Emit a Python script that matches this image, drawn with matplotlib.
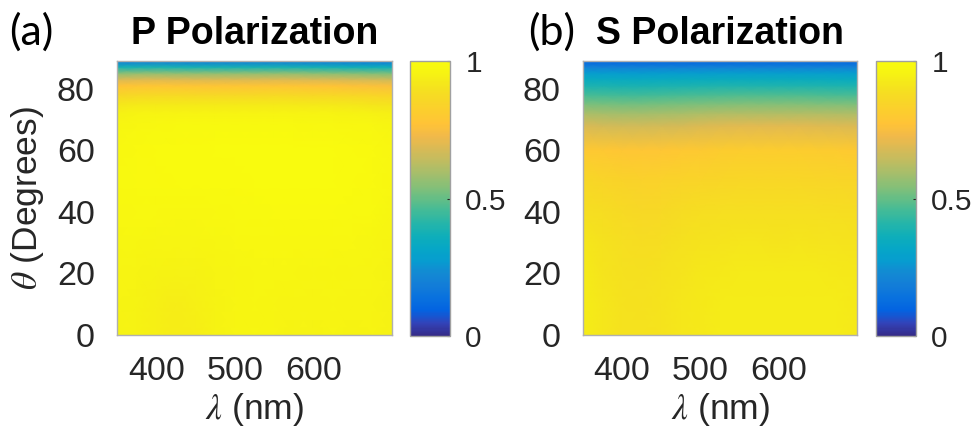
import numpy as np
import matplotlib
matplotlib.use("Agg")
import matplotlib.pyplot as plt
from matplotlib.colors import LinearSegmentedColormap

# ---------------- data ----------------
wavelength_nm = [350, 375, 400, 425, 450, 475, 500, 525, 550, 575, 600, 625, 650, 675, 700]
angle_deg = [0, 10, 20, 30, 40, 50, 60, 68, 72, 75, 78, 81, 83, 85, 87, 89]

p_absorption = [
    [0.955, 0.955, 0.945, 0.935, 0.940, 0.955, 0.965, 0.970, 0.965, 0.955, 0.955, 0.965, 0.955, 0.960, 0.950],
    [0.960, 0.955, 0.945, 0.937, 0.942, 0.955, 0.965, 0.970, 0.968, 0.962, 0.958, 0.965, 0.958, 0.962, 0.952],
    [0.965, 0.960, 0.955, 0.950, 0.952, 0.960, 0.968, 0.972, 0.972, 0.970, 0.968, 0.970, 0.968, 0.965, 0.955],
    [0.972, 0.970, 0.968, 0.965, 0.965, 0.970, 0.975, 0.978, 0.980, 0.980, 0.978, 0.978, 0.976, 0.972, 0.962],
    [0.980, 0.982, 0.982, 0.980, 0.980, 0.982, 0.985, 0.988, 0.990, 0.990, 0.990, 0.990, 0.988, 0.985, 0.972],
    [0.985, 0.990, 0.992, 0.993, 0.994, 0.995, 0.996, 0.997, 0.997, 0.997, 0.997, 0.997, 0.996, 0.990, 0.978],
    [0.982, 0.990, 0.993, 0.995, 0.996, 0.997, 0.998, 0.998, 0.998, 0.998, 0.998, 0.998, 0.996, 0.990, 0.975],
    [0.970, 0.978, 0.982, 0.985, 0.986, 0.986, 0.986, 0.986, 0.986, 0.985, 0.984, 0.983, 0.980, 0.975, 0.965],
    [0.950, 0.958, 0.962, 0.963, 0.963, 0.963, 0.963, 0.963, 0.963, 0.962, 0.960, 0.958, 0.955, 0.950, 0.942],
    [0.915, 0.922, 0.925, 0.925, 0.925, 0.925, 0.925, 0.925, 0.925, 0.922, 0.920, 0.918, 0.915, 0.910, 0.905],
    [0.855, 0.862, 0.865, 0.865, 0.862, 0.862, 0.862, 0.862, 0.865, 0.862, 0.858, 0.856, 0.852, 0.848, 0.842],
    [0.770, 0.780, 0.782, 0.780, 0.778, 0.778, 0.778, 0.778, 0.780, 0.778, 0.772, 0.770, 0.765, 0.760, 0.755],
    [0.680, 0.690, 0.692, 0.688, 0.685, 0.685, 0.685, 0.685, 0.688, 0.685, 0.680, 0.676, 0.670, 0.665, 0.660],
    [0.550, 0.560, 0.562, 0.558, 0.555, 0.555, 0.555, 0.555, 0.558, 0.555, 0.550, 0.545, 0.540, 0.535, 0.530],
    [0.380, 0.390, 0.392, 0.388, 0.385, 0.385, 0.385, 0.385, 0.388, 0.385, 0.380, 0.375, 0.370, 0.368, 0.365],
    [0.170, 0.178, 0.180, 0.178, 0.175, 0.175, 0.175, 0.175, 0.178, 0.175, 0.170, 0.168, 0.165, 0.162, 0.160],
]

s_absorption = [
    [0.935, 0.915, 0.900, 0.900, 0.905, 0.915, 0.925, 0.930, 0.930, 0.930, 0.930, 0.930, 0.930, 0.930, 0.922],
    [0.935, 0.915, 0.900, 0.898, 0.903, 0.915, 0.925, 0.930, 0.930, 0.930, 0.930, 0.930, 0.930, 0.930, 0.922],
    [0.930, 0.910, 0.897, 0.893, 0.900, 0.910, 0.920, 0.925, 0.927, 0.927, 0.926, 0.927, 0.926, 0.925, 0.918],
    [0.915, 0.900, 0.888, 0.880, 0.886, 0.897, 0.905, 0.910, 0.912, 0.912, 0.910, 0.912, 0.910, 0.908, 0.903],
    [0.890, 0.880, 0.868, 0.860, 0.865, 0.875, 0.883, 0.888, 0.890, 0.890, 0.890, 0.890, 0.888, 0.886, 0.882],
    [0.860, 0.850, 0.840, 0.835, 0.838, 0.845, 0.850, 0.855, 0.857, 0.857, 0.857, 0.857, 0.855, 0.853, 0.850],
    [0.800, 0.790, 0.785, 0.783, 0.785, 0.790, 0.800, 0.810, 0.815, 0.815, 0.815, 0.815, 0.810, 0.805, 0.800],
    [0.680, 0.670, 0.665, 0.665, 0.670, 0.675, 0.685, 0.692, 0.696, 0.696, 0.696, 0.696, 0.692, 0.688, 0.684],
    [0.600, 0.592, 0.588, 0.588, 0.592, 0.597, 0.604, 0.610, 0.613, 0.613, 0.613, 0.613, 0.610, 0.606, 0.602],
    [0.530, 0.524, 0.520, 0.520, 0.524, 0.528, 0.534, 0.539, 0.542, 0.542, 0.542, 0.542, 0.539, 0.536, 0.532],
    [0.460, 0.456, 0.453, 0.453, 0.456, 0.459, 0.463, 0.467, 0.470, 0.470, 0.470, 0.470, 0.467, 0.464, 0.462],
    [0.390, 0.387, 0.385, 0.385, 0.387, 0.389, 0.392, 0.395, 0.397, 0.397, 0.397, 0.397, 0.395, 0.393, 0.391],
    [0.340, 0.338, 0.336, 0.336, 0.338, 0.340, 0.342, 0.344, 0.346, 0.346, 0.346, 0.346, 0.344, 0.342, 0.340],
    [0.280, 0.278, 0.276, 0.276, 0.278, 0.279, 0.281, 0.283, 0.285, 0.285, 0.285, 0.285, 0.283, 0.282, 0.280],
    [0.200, 0.198, 0.197, 0.197, 0.198, 0.199, 0.200, 0.202, 0.203, 0.203, 0.203, 0.203, 0.202, 0.201, 0.200],
    [0.100, 0.099, 0.098, 0.098, 0.099, 0.100, 0.100, 0.101, 0.102, 0.102, 0.102, 0.102, 0.101, 0.100, 0.100],
]

x_ticks = [400, 500, 600]
y_ticks = [0, 20, 40, 60, 80]
cbar_ticks = [0, 0.5, 1]
cbar_ticklabels = ["0", "0.5", "1"]
panel_labels = ["(a)", "(b)"]
panel_titles = ["P Polarization", "S Polarization"]

# ---------------- style ----------------
parula_anchor = [
    [0.2081, 0.1663, 0.5292], [0.1959, 0.2645, 0.7279], [0.0117, 0.3875, 0.8820],
    [0.0329, 0.4430, 0.8720], [0.0723, 0.4887, 0.8467], [0.0749, 0.5375, 0.8263],
    [0.0265, 0.6137, 0.8135], [0.0228, 0.6535, 0.7768], [0.0590, 0.6838, 0.7254],
    [0.1453, 0.7098, 0.6646], [0.2586, 0.7317, 0.5954], [0.3953, 0.7459, 0.5244],
    [0.5300, 0.7491, 0.4661], [0.6473, 0.7456, 0.4188], [0.7524, 0.7384, 0.3768],
    [0.8507, 0.7299, 0.3360], [0.9450, 0.7261, 0.2886], [0.9990, 0.7653, 0.2164],
    [0.9880, 0.8066, 0.1794], [0.9697, 0.8481, 0.1475], [0.9589, 0.8949, 0.1132],
    [0.9661, 0.9514, 0.0755], [0.9763, 0.9831, 0.0538],
]
parula = LinearSegmentedColormap.from_list("parula", parula_anchor, N=256)

plt.rcParams["font.family"] = ["Liberation Sans", "DejaVu Sans"]
plt.rcParams["mathtext.fontset"] = "stix"
text_color = "#262626"
fs = 24.5
fs_cb = 21.5

fig = plt.figure(figsize=(9.73, 4.34), dpi=100)

W, H = 973.0, 434.0
axes_px = [(117, 61, 392, 335), (583, 61, 857, 335)]
cbar_px = [(410, 61, 450, 336), (876, 61, 916, 336)]
label_px = [(9, 32), (528, 32)]

X = np.array(wavelength_nm)
Y = np.array(angle_deg)

for i, Z in enumerate([p_absorption, s_absorption]):
    l, t, r, b = axes_px[i]
    ax = fig.add_axes([l / W, 1 - b / H, (r - l) / W, (b - t) / H])
    ax.pcolormesh(X, Y, np.array(Z), cmap=parula, vmin=0, vmax=1, shading="gouraud")
    ax.set_xlim(350, 700)
    ax.set_ylim(0, 89)
    ax.set_xticks(x_ticks)
    ax.set_yticks(y_ticks)
    ax.tick_params(length=0, labelsize=fs, colors=text_color, pad=16)
    ax.tick_params(axis="x", pad=15)
    for sp in ax.spines.values():
        sp.set_color("#b0b0b0")
        sp.set_linewidth(1.0)
    ax.set_xlabel(r"$\lambda$ (nm)", fontsize=fs + 1, color=text_color, labelpad=3)
    if i == 0:
        ax.set_ylabel(r"$\theta$ (Degrees)", fontsize=fs + 1, color=text_color, labelpad=8)
    ax.set_title(panel_titles[i], fontsize=27, fontweight="bold", color="black", pad=12)

    cl, ct, cr, cb_ = cbar_px[i]
    cax = fig.add_axes([cl / W, 1 - cb_ / H, (cr - cl) / W, (cb_ - ct) / H])
    sm = matplotlib.cm.ScalarMappable(cmap=parula, norm=matplotlib.colors.Normalize(0, 1))
    cbar = fig.colorbar(sm, cax=cax)
    cbar.set_ticks(cbar_ticks)
    cbar.set_ticklabels(cbar_ticklabels)
    cbar.ax.tick_params(labelsize=fs_cb, colors=text_color, direction="in", length=2, pad=11)
    cbar.outline.set_edgecolor("#a0a0a0")
    cbar.outline.set_linewidth(1.0)

    fig.text(label_px[i][0] / W, 1 - label_px[i][1] / H, panel_labels[i],
             fontsize=31, family=["Lato", "DejaVu Sans"], color="black",
             va="center", ha="left")

fig.savefig("out.png", dpi=100)
